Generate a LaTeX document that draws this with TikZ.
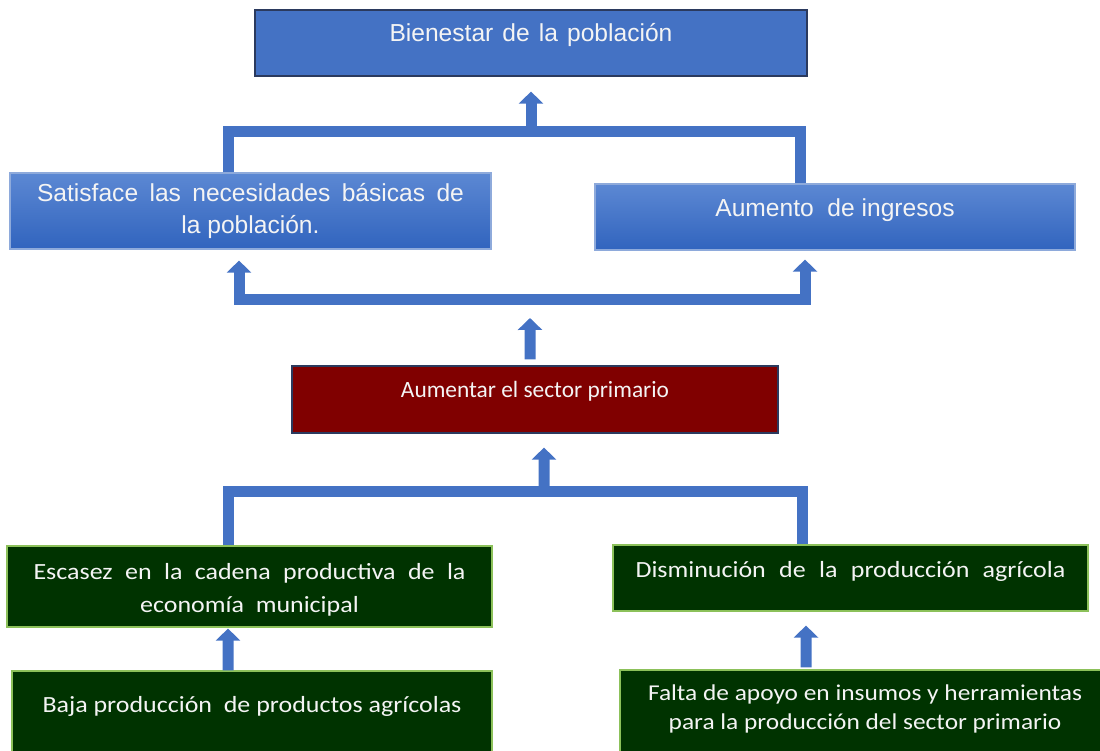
\documentclass[tikz,border=0pt]{standalone}
\usepackage{fontspec}
\setmainfont{Liberation Sans}
\newfontfamily\calib{Carlito}
\newfontfamily\calibwide[FakeStretch=1.12]{Carlito}
\usetikzlibrary{arrows.meta}

\definecolor{linkblue}{HTML}{4472C4}
\definecolor{bluetop}{HTML}{5C88D3}
\definecolor{bluebot}{HTML}{3164BE}
\definecolor{blueedge}{HTML}{8EAADB}
\definecolor{darkedge}{HTML}{2B3A5E}
\definecolor{wine}{HTML}{800000}
\definecolor{leaf}{HTML}{003300}
\definecolor{leafedge}{HTML}{8CC15A}
\definecolor{paper}{HTML}{F4F4F4}

\tikzset{
  box/.style={draw, line width=0.7pt, inner sep=0pt},
  topbox/.style={box, draw=darkedge, fill=linkblue},
  bluebox/.style={box, draw=blueedge, top color=bluetop, bottom color=bluebot},
  redbox/.style={box, draw=darkedge, fill=wine},
  greenbox/.style={box, draw=leafedge, fill=leaf},
  bluetxt/.style={text=paper, align=center, font=\fontsize{14}{18}\selectfont},
  redtxt/.style={text=paper, align=center, font=\calib\fontsize{13.3}{16}\selectfont},
  greentxt/.style={text=paper, align=center, font=\calibwide\fontsize{13.2}{18.7}\selectfont},
  link/.style={draw=linkblue, line width=0.22cm},
  arr/.style={link, -{Triangle[length=0.24cm, width=0.48cm]}},
}

\begin{document}
\begin{tikzpicture}[x=0.02cm, y=-0.02cm]
	\useasboundingbox (0,0) rectangle (1100,751);
	\clip (0,0) rectangle (1100,751);
	
	% boxes
	\node (bien) [topbox, minimum width=11.04cm, minimum height=1.32cm] at (531,43) {};
	\node (satis) [bluebox, minimum width=9.62cm, minimum height=1.52cm] at (250.5,211) {};
	\node (aum) [bluebox, minimum width=9.6cm, minimum height=1.32cm] at (835,217) {};
	\node (prim) [redbox, minimum width=9.72cm, minimum height=1.34cm] at (535,399.5) {};
	\node (esc) [greenbox, minimum width=9.7cm, minimum height=1.62cm] at (249.5,586.5) {};
	\node (dism) [greenbox, minimum width=9.5cm, minimum height=1.32cm] at (850.5,578) {};
	\node (baja) [greenbox, minimum width=9.6cm, minimum height=1.8cm] at (252,716) {};
	\node (falta) [greenbox, minimum width=9.8cm, minimum height=1.8cm] at (865,715) {};
	
	% texts
	\node (bientxt) [bluetxt] at ([yshift=0.16cm]bien) {\makebox[5.66cm][s]{Bienestar de la población}};
	\node (satistxt) [bluetxt] at (satis) {\makebox[8.54cm][s]{Satisface las necesidades básicas de}\\la población.};
	\node (aumtxt) [bluetxt] at ([yshift=0.14cm]aum) {Aumento\ \ de ingresos};
	\node (primtxt) [redtxt] at ([yshift=0.17cm]prim) {Aumentar el sector primario};
	\node (esctxt) [greentxt] at ([yshift=-0.06cm]esc) {\makebox[8.64cm][s]{Escasez en la cadena productiva de la}\\economía\ \ municipal};
	\node (dismtxt) [greentxt] at ([yshift=0.14cm]dism) {\makebox[8.6cm][s]{Disminución de la producción agrícola}};
	\node (bajatxt) [greentxt] at ([yshift=0.2cm]baja) {Baja producción\ \ de productos agrícolas};
	\node (faltatxt) [greentxt, font=\calibwide\fontsize{12.9}{17}\selectfont] at ([yshift=0.12cm]falta) {Falta de apoyo en insumos y herramientas\\para la producción del sector primario};
	
	% connectors
	\coordinate (tbar) at (531,131);
	\coordinate (mbar) at (530,299);
	\coordinate (lbar) at (544,491);
	
	\draw [link] ([xshift=-0.45cm]satis.north) |- (tbar) -| ([xshift=-0.7cm]aum.north);
	\draw [arr] (tbar) -- ([yshift=-0.3cm]bien.south);
	
	\draw [arr] ([xshift=-0.1cm, yshift=0.12cm]prim.north) -- ([yshift=-0.38cm]mbar);
	\draw [arr] (mbar) -| ([xshift=-0.23cm, yshift=-0.22cm]satis.south);
	\draw [arr] (mbar) -| ([xshift=-0.6cm, yshift=-0.18cm]aum.south);
	
	\draw [link] ([xshift=-0.43cm]esc.north) |- (lbar) -| ([xshift=-0.97cm]dism.north);
	\draw [arr] (lbar) -- ([xshift=0.18cm, yshift=-0.28cm]prim.south);
	
	\draw [arr] ([xshift=-0.48cm]baja.north) -- ([xshift=-0.43cm, yshift=-0.02cm]esc.south);
	\draw [arr] ([xshift=-1.18cm, yshift=0.04cm]falta.north) -- ([xshift=-0.89cm, yshift=-0.28cm]dism.south);
	
\end{tikzpicture}
\end{document}
